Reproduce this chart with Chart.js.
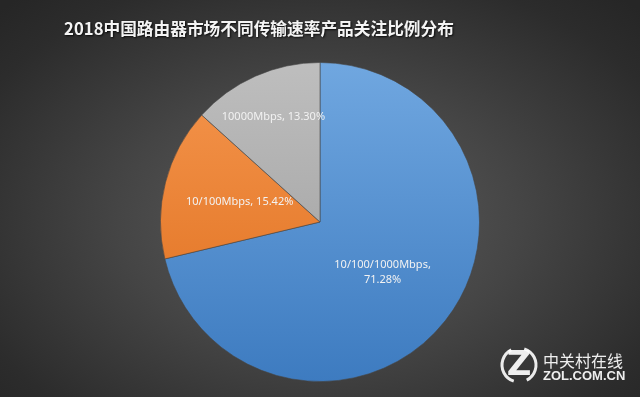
<!DOCTYPE html>
<html>
<head>
<meta charset="utf-8">
<script src="https://cdn.jsdelivr.net/npm/chart.js@4/dist/chart.umd.min.js"></script>
<style>
    html, body {
        margin: 0;
        padding: 0;
    }

    body {
        width: 640px;
        height: 397px;
        overflow: hidden;
        background: radial-gradient(ellipse 70% 75% at 50% 55%, #5e5e5e 0%, #454545 45%, #2c2c2c 85%, #262626 100%);
    }

    #wrap {
        position: relative;
        width: 640px;
        height: 397px;
    }
</style>
</head>
<body>
<div id="wrap"><canvas id="chart"></canvas></div>
<script>
var title_text = "2018中国路由器市场不同传输速率产品关注比例分布";
var categories = ["10/100/1000Mbps", "10/100Mbps", "10000Mbps"];
var shares = [71.28, 15.42, 13.30];
var share_labels = ["71.28%", "15.42%", "13.30%"];

// top / bottom colours of each slice's gradient
var top_colors = ["#70a7e0", "#f5964e", "#bebebe"];
var bottom_colors = ["#3d7bc0", "#de6d1b", "#9a9a9a"];

// how far out (fraction of radius) each label sits
var label_radius = [0.50, 0.52, 0.72];

function slice_fill (context) {
    var chart = context.chart;
    var area = chart.chartArea;

    if (!area) {
        return top_colors[context.dataIndex];
    }

    var grad = chart.ctx.createLinearGradient(0, area.top, 0, area.bottom);

    grad.addColorStop(0, top_colors[context.dataIndex]);
    grad.addColorStop(1, bottom_colors[context.dataIndex]);

    return grad;
}

var label_plugin = {
    id: "slice_labels",
    afterDatasetsDraw: function (chart) {
        var ctx = chart.ctx;
        var meta = chart.getDatasetMeta(0);

        ctx.save();
        ctx.font = "11px 'Noto Sans', 'Open Sans', sans-serif";
        ctx.fillStyle = "#f2f2f2";
        ctx.textAlign = "center";
        ctx.textBaseline = "middle";

        meta.data.forEach(function (arc, i) {
            var p = arc.getProps(["x", "y", "startAngle", "endAngle", "outerRadius"], true);
            var mid = (p.startAngle + p.endAngle) / 2;
            var r = p.outerRadius * label_radius[i];
            var x = p.x + Math.cos(mid) * r;
            var y = p.y + Math.sin(mid) * r;

            if (i === 0) {
                ctx.fillText(categories[i] + ",", x, y - 7);
                ctx.fillText(share_labels[i], x, y + 8);
            } else {
                ctx.fillText(categories[i] + ", " + share_labels[i], x, y);
            }
        });

        ctx.restore();
    }
};

var decor_plugin = {
    id: "decor",
    afterDraw: function (chart) {
        var ctx = chart.ctx;

        ctx.save();

        // Title
        ctx.font = "bold 16.7px 'Noto Sans CJK SC', sans-serif";
        ctx.textAlign = "center";
        ctx.textBaseline = "middle";
        ctx.shadowColor = "rgba(0, 0, 0, 0.8)";
        ctx.shadowOffsetX = 1;
        ctx.shadowOffsetY = 1;
        ctx.shadowBlur = 2;
        ctx.fillStyle = "#f4f4f4";
        ctx.fillText(title_text, 259, 29);

        // Watermark
        ctx.shadowColor = "transparent";
        ctx.fillStyle = "rgba(255, 255, 255, 0.92)";
        ctx.font = "bold 34px 'DejaVu Sans', sans-serif";
        ctx.textAlign = "center";
        ctx.fillText("Z", 519, 366);

        ctx.strokeStyle = "rgba(255, 255, 255, 0.9)";
        ctx.lineWidth = 3;
        ctx.beginPath();
        ctx.arc(519, 365, 17, Math.PI * 0.6, Math.PI * 1.35);
        ctx.stroke();
        ctx.beginPath();
        ctx.arc(519, 365, 17, Math.PI * 1.6, Math.PI * 2.35);
        ctx.stroke();

        ctx.textAlign = "left";
        ctx.font = "16px 'Noto Sans CJK SC', sans-serif";
        ctx.fillText("中关村在线", 543, 361);
        ctx.font = "bold 13px 'Liberation Sans', sans-serif";
        ctx.fillText("ZOL.COM.CN", 543, 376);

        ctx.restore();
    }
};

new Chart(document.getElementById("chart"), {
    type: "pie",
    data: {
        labels: categories,
        datasets: [{
            data: shares,
            backgroundColor: slice_fill,
            borderColor: "rgba(70, 70, 70, 0.6)",
            borderWidth: 1
        }]
    },
    options: {
        responsive: true,
        maintainAspectRatio: false,
        animation: false,
        layout: {
            padding: {
                top: 62,
                bottom: 15,
                left: 0,
                right: 0
            }
        },
        plugins: {
            legend: {display: false},
            tooltip: {enabled: false},
            title: {display: false}
        }
    },
    plugins: [label_plugin, decor_plugin]
});
</script>
</body>
</html>
